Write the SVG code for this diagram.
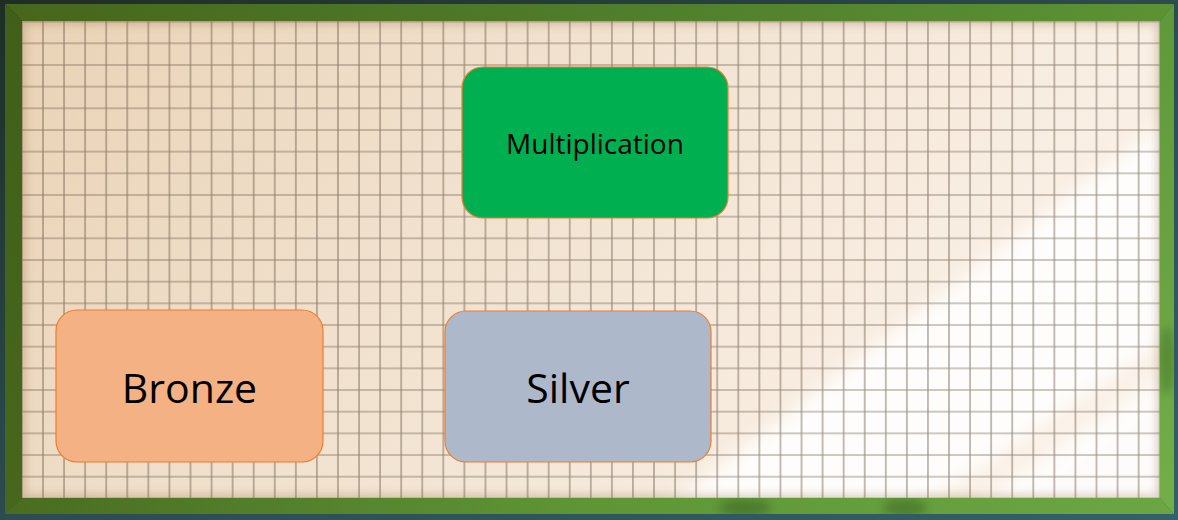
<svg xmlns="http://www.w3.org/2000/svg" width="1178" height="520" viewBox="0 0 1178 520">
  <defs>
    <style>
      .node { stroke: #ED7D31; stroke-width: 1.2; }
      .label { font-family: "Open Sans", "Liberation Sans", sans-serif; fill: #000000; text-anchor: middle; }
    </style>
    <linearGradient id="bg" x1="0" y1="0" x2="1" y2="1">
      <stop offset="0" stop-color="#1E2E26"/>
      <stop offset="0.5" stop-color="#2C4C50"/>
      <stop offset="1" stop-color="#34606A"/>
    </linearGradient>
    <linearGradient id="paper" x1="0" y1="0" x2="1" y2="0.3">
      <stop offset="0" stop-color="#EAD3B6"/>
      <stop offset="0.45" stop-color="#F1E1CE"/>
      <stop offset="1" stop-color="#FAF1E7"/>
    </linearGradient>
    <linearGradient id="ftop" x1="0" y1="0" x2="1" y2="0">
      <stop offset="0" stop-color="#47661B"/>
      <stop offset="0.5" stop-color="#4F7D2A"/>
      <stop offset="1" stop-color="#5C9234"/>
    </linearGradient>
    <linearGradient id="fbot" x1="0" y1="0" x2="1" y2="0">
      <stop offset="0" stop-color="#4A6C20"/>
      <stop offset="0.5" stop-color="#5E9636"/>
      <stop offset="1" stop-color="#6CA644"/>
    </linearGradient>
    <linearGradient id="fleft" x1="0" y1="0" x2="0" y2="1">
      <stop offset="0" stop-color="#40601A"/>
      <stop offset="1" stop-color="#46671C"/>
    </linearGradient>
    <linearGradient id="fright" x1="0" y1="0" x2="0" y2="1">
      <stop offset="0" stop-color="#5E983A"/>
      <stop offset="1" stop-color="#74AE48"/>
    </linearGradient>
    <pattern id="grid" patternUnits="userSpaceOnUse" x="11.395" y="10.795" width="21.07" height="21.67">
      <path d="M10.535 0 V21.67 M0 10.835 H21.07" fill="none" stroke="#5E4E3E" stroke-opacity="0.62" stroke-width="1.2"/>
    </pattern>
    <clipPath id="paperClip">
      <rect x="22" y="21" width="1138" height="477"/>
    </clipPath>
    <clipPath id="frameRight">
      <polygon points="1174,4 1174,514 1160,498 1160,21"/>
    </clipPath>
    <clipPath id="frameBottom">
      <polygon points="5,514 22,498 1160,498 1174,514"/>
    </clipPath>
    <filter id="soft" x="-20%" y="-20%" width="140%" height="140%">
      <feGaussianBlur stdDeviation="9"/>
    </filter>
    <filter id="soft2" x="-20%" y="-20%" width="140%" height="140%">
      <feGaussianBlur stdDeviation="4"/>
    </filter>
  </defs>

  <!-- outer background -->
  <rect x="0" y="0" width="1178" height="520" fill="url(#bg)"/>

  <!-- paper -->
  <g id="paper-area" clip-path="url(#paperClip)">
    <rect x="22" y="21" width="1138" height="477" fill="url(#paper)"/>
    <polygon points="650,520 1190,104 1190,322 900,520" fill="#FFFFFF" opacity="0.9" filter="url(#soft)"/>
    <polygon points="955,520 1190,358 1190,530" fill="#FFFFFF" opacity="0.85" filter="url(#soft)"/>
    <rect x="22" y="21" width="1138" height="477" fill="url(#grid)"/>
    <rect x="22" y="21" width="1138" height="477" fill="none" stroke="#7A5A35" stroke-opacity="0.35" stroke-width="6" filter="url(#soft2)"/>
  </g>

  <!-- frame -->
  <g id="frame">
    <polygon points="5,4 1174,4 1160,21 22,21" fill="url(#ftop)"/>
    <polygon points="5,4 22,21 22,498 5,514" fill="url(#fleft)"/>
    <polygon points="1174,4 1174,514 1160,498 1160,21" fill="url(#fright)"/>
    <polygon points="5,514 22,498 1160,498 1174,514" fill="url(#fbot)"/>
    <g clip-path="url(#frameBottom)">
      <g opacity="0.3" filter="url(#soft2)">
        <ellipse cx="745" cy="508" rx="26" ry="9" fill="#1E3A10"/>
        <ellipse cx="905" cy="508" rx="22" ry="9" fill="#1E3A10"/>
      </g>
    </g>
    <g clip-path="url(#frameRight)">
      <ellipse cx="1167" cy="360" rx="8" ry="34" fill="#1E3A10" opacity="0.25" filter="url(#soft2)"/>
    </g>
  </g>

  <g id="connectors"></g>

  <g id="node-multiplication">
    <rect class="node" x="462" y="67" width="266" height="151" rx="21" ry="21" fill="#00B050"/>
    <text class="label" x="595" y="154" font-size="28">Multiplication</text>
  </g>

  <g id="node-bronze">
    <rect class="node" x="56" y="310" width="267" height="152" rx="21" ry="21" fill="#F4B183"/>
    <text class="label" x="189.5" y="403" font-size="41">Bronze</text>
  </g>

  <g id="node-silver">
    <rect class="node" x="445" y="311" width="266" height="151" rx="21" ry="21" fill="#ADB9CA"/>
    <text class="label" x="578" y="403" font-size="41">Silver</text>
  </g>
</svg>
